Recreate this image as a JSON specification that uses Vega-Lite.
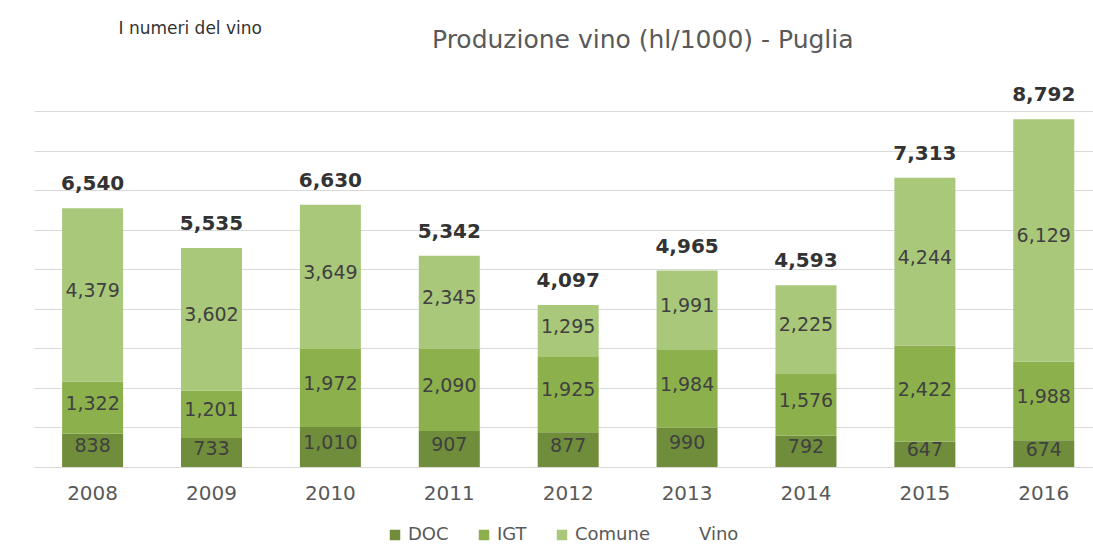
{
  "$schema": "https://vega.github.io/schema/vega-lite/v6.json",
  "autosize": "none",
  "width": 1059,
  "height": 356,
  "padding": {"left": 34, "top": 111, "right": 0, "bottom": 77},
  "background": "white",
  "config": {
    "view": {"stroke": null},
    "font": "DejaVu Sans",
    "axisY": {
      "title": "I numeri del vino",
      "titleAngle": 0,
      "titleX": 84,
      "titleY": -83,
      "titleAlign": "left",
      "titleBaseline": "middle",
      "titleFontSize": 17,
      "titleFontWeight": 500,
      "titleColor": "#333333",
      "labels": false,
      "ticks": false,
      "domain": false,
      "grid": true,
      "gridColor": "#d9d9d9",
      "gridWidth": 1
    }
  },
  "title": {
    "text": "Produzione vino (hl/1000) - Puglia",
    "anchor": "start",
    "dx": 398,
    "offset": -34,
    "font": "DejaVu Sans",
    "fontSize": 25,
    "fontWeight": "normal",
    "color": "#595959"
  },
  "datasets": {
    "parts": [
      {"year": "2008", "series": "DOC", "order": 1, "value": 838},
      {"year": "2008", "series": "IGT", "order": 2, "value": 1322},
      {"year": "2008", "series": "Comune", "order": 3, "value": 4379},
      {"year": "2009", "series": "DOC", "order": 1, "value": 733},
      {"year": "2009", "series": "IGT", "order": 2, "value": 1201},
      {"year": "2009", "series": "Comune", "order": 3, "value": 3602},
      {"year": "2010", "series": "DOC", "order": 1, "value": 1010},
      {"year": "2010", "series": "IGT", "order": 2, "value": 1972},
      {"year": "2010", "series": "Comune", "order": 3, "value": 3649},
      {"year": "2011", "series": "DOC", "order": 1, "value": 907},
      {"year": "2011", "series": "IGT", "order": 2, "value": 2090},
      {"year": "2011", "series": "Comune", "order": 3, "value": 2345},
      {"year": "2012", "series": "DOC", "order": 1, "value": 877},
      {"year": "2012", "series": "IGT", "order": 2, "value": 1925},
      {"year": "2012", "series": "Comune", "order": 3, "value": 1295},
      {"year": "2013", "series": "DOC", "order": 1, "value": 990},
      {"year": "2013", "series": "IGT", "order": 2, "value": 1984},
      {"year": "2013", "series": "Comune", "order": 3, "value": 1991},
      {"year": "2014", "series": "DOC", "order": 1, "value": 792},
      {"year": "2014", "series": "IGT", "order": 2, "value": 1576},
      {"year": "2014", "series": "Comune", "order": 3, "value": 2225},
      {"year": "2015", "series": "DOC", "order": 1, "value": 647},
      {"year": "2015", "series": "IGT", "order": 2, "value": 2422},
      {"year": "2015", "series": "Comune", "order": 3, "value": 4244},
      {"year": "2016", "series": "DOC", "order": 1, "value": 674},
      {"year": "2016", "series": "IGT", "order": 2, "value": 1988},
      {"year": "2016", "series": "Comune", "order": 3, "value": 6129}
    ],
    "totals": [
      {"year": "2008", "total": 6540},
      {"year": "2009", "total": 5535},
      {"year": "2010", "total": 6630},
      {"year": "2011", "total": 5342},
      {"year": "2012", "total": 4097},
      {"year": "2013", "total": 4965},
      {"year": "2014", "total": 4593},
      {"year": "2015", "total": 7313},
      {"year": "2016", "total": 8792}
    ]
  },
  "encoding": {
    "x": {
      "field": "year",
      "type": "nominal",
      "scale": {"paddingInner": 0.487, "paddingOuter": 0.197, "align": 0.6},
      "axis": {
        "title": null,
        "labelAngle": 0,
        "labelFontSize": 20,
        "labelColor": "#595959",
        "labelPadding": 16,
        "ticks": false,
        "domain": false
      }
    }
  },
  "layer": [
    {
      "data": {"name": "parts"},
      "mark": {"type": "bar"},
      "encoding": {
        "y": {
          "field": "value",
          "type": "quantitative",
          "stack": "zero",
          "title": "I numeri del vino",
          "scale": {"domain": [0, 9000], "nice": false},
          "axis": {"values": [0, 1000, 2000, 3000, 4000, 5000, 6000, 7000, 8000, 9000]}
        },
        "color": {
          "field": "series",
          "type": "nominal",
          "scale": {
            "domain": ["DOC", "IGT", "Comune", "Vino"],
            "range": ["#6f8d3a", "#8cb04c", "#a9c87a", "transparent"]
          },
          "legend": {
            "title": null,
            "orient": "none",
            "legendX": 352,
            "legendY": 415,
            "direction": "horizontal",
            "symbolType": "square",
            "symbolSize": 110,
            "symbolStrokeWidth": 0,
            "labelFontSize": 18,
            "labelColor": "#595959",
            "labelOffset": 4,
            "columnPadding": 26
          }
        },
        "order": {"field": "order", "type": "quantitative"}
      }
    },
    {
      "data": {"name": "parts"},
      "transform": [
        {"stack": "value", "groupby": ["year"], "sort": [{"field": "order", "order": "ascending"}], "as": ["y0", "y1"]},
        {"fold": ["y0", "y1"], "as": ["k", "v"]},
        {"aggregate": [{"op": "mean", "field": "v", "as": "mid"}, {"op": "max", "field": "value", "as": "value"}], "groupby": ["year", "series"]}
      ],
      "mark": {"type": "text", "fontSize": 19, "color": "#404040", "dy": -4, "baseline": "middle"},
      "encoding": {
        "y": {
          "field": "mid",
          "type": "quantitative",
          "title": "I numeri del vino",
          "axis": {"values": [0, 1000, 2000, 3000, 4000, 5000, 6000, 7000, 8000, 9000]}
        },
        "text": {"field": "value", "type": "quantitative", "format": ","}
      }
    },
    {
      "data": {"name": "totals"},
      "mark": {"type": "text", "fontSize": 20, "fontWeight": "bold", "color": "#333333", "baseline": "alphabetic", "dy": -18},
      "encoding": {
        "y": {
          "field": "total",
          "type": "quantitative",
          "title": "I numeri del vino",
          "axis": {"values": [0, 1000, 2000, 3000, 4000, 5000, 6000, 7000, 8000, 9000]}
        },
        "text": {"field": "total", "type": "quantitative", "format": ","}
      }
    }
  ]
}
